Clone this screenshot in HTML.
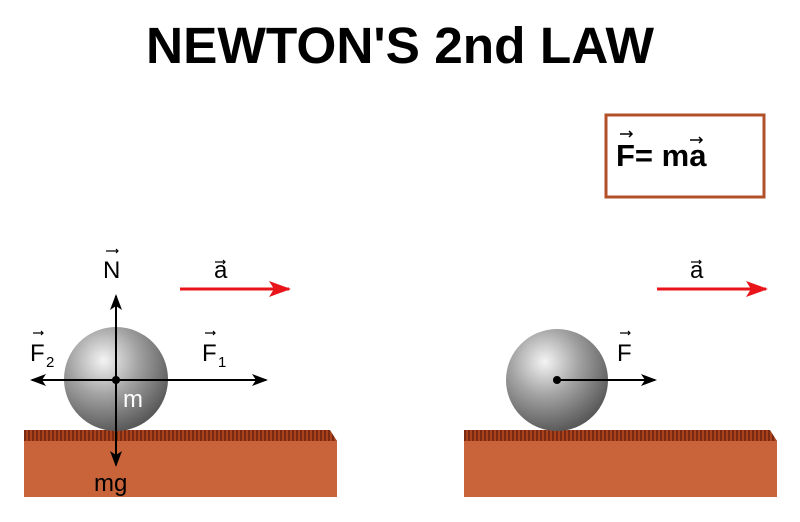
<!DOCTYPE html>
<html><head><style>body{margin:0;background:#fff}svg{display:block}</style></head><body>
<svg width="800" height="522" viewBox="0 0 800 522" xmlns="http://www.w3.org/2000/svg" font-family="Liberation Sans, sans-serif">
<defs>
<radialGradient id="g" cx="0.38" cy="0.32" r="0.75">
<stop offset="0" stop-color="#f4f4f4"/><stop offset="0.45" stop-color="#a2a2a2"/><stop offset="1" stop-color="#4e4e4e"/>
</radialGradient>
<pattern id="h" width="4" height="11" patternUnits="userSpaceOnUse"><rect width="4" height="11" fill="#a8431e"/><rect width="2" height="11" fill="#7a2a10"/></pattern>
<marker id="ab" markerWidth="16" markerHeight="12" refX="14" refY="6" orient="auto" markerUnits="userSpaceOnUse"><path d="M0,0 L16,6 L0,12 L4,6z" fill="#000"/></marker>
<marker id="ar" markerWidth="22" markerHeight="16" refX="20" refY="8" orient="auto" markerUnits="userSpaceOnUse"><path d="M0,0 L22,8 L0,16 L5,8z" fill="#e8141a"/></marker>
</defs>
<text x="400" y="63" text-anchor="middle" font-size="51" font-weight="bold" textLength="508" lengthAdjust="spacingAndGlyphs">NEWTON'S 2nd LAW</text>
<rect x="606" y="115" width="158" height="82" fill="#fff" stroke="#b2502a" stroke-width="3"/>
<text x="616" y="166" font-size="31" font-weight="bold">F= ma</text>
<path d="M620 134h12M629 131l3 3-3 3M690 140h12M699 137l3 3-3 3" stroke="#000" stroke-width="1.5" fill="none"/>
<rect x="24" y="441" width="313" height="56" fill="#c9643a"/>
<path d="M24 430h306l7 11H24z" fill="url(#h)"/>
<rect x="464" y="441" width="313" height="56" fill="#c9643a"/>
<path d="M464 430h306l7 11H464z" fill="url(#h)"/>
<circle cx="116" cy="379" r="52" fill="url(#g)"/>
<circle cx="557" cy="380" r="51" fill="url(#g)"/>
<g stroke="#000" stroke-width="2">
<line x1="116" y1="380" x2="116" y2="296" marker-end="url(#ab)"/>
<line x1="116" y1="380" x2="116" y2="465" marker-end="url(#ab)"/>
<line x1="116" y1="380" x2="266" y2="380" marker-end="url(#ab)"/>
<line x1="116" y1="380" x2="32" y2="380" marker-end="url(#ab)"/>
<line x1="557" y1="380" x2="655" y2="380" marker-end="url(#ab)"/>
</g>
<circle cx="116" cy="380" r="4"/><circle cx="557" cy="380" r="4"/>
<g stroke="#e8141a" stroke-width="3">
<line x1="180" y1="289" x2="289" y2="289" marker-end="url(#ar)"/>
<line x1="657" y1="289" x2="766" y2="289" marker-end="url(#ar)"/>
</g>
<g font-size="24">
<text x="103" y="278">N</text>
<text x="214" y="278">a</text>
<text x="690" y="278">a</text>
<text x="30" y="361">F</text><text x="46" y="367" font-size="15">2</text>
<text x="202" y="361">F</text><text x="218" y="367" font-size="15">1</text>
<text x="617" y="361">F</text>
<text x="123" y="407" fill="#fff">m</text>
<text x="94" y="491">mg</text>
</g>
<g stroke="#000" stroke-width="1.2" fill="none">
<path d="M106 251h12M116 249l2 2-2 2"/>
<path d="M215 262h10M223 260l2 2-2 2"/>
<path d="M691 262h10M699 260l2 2-2 2"/>
<path d="M33 333h10M41 331l2 2-2 2"/>
<path d="M205 333h10M213 331l2 2-2 2"/>
<path d="M620 333h10M628 331l2 2-2 2"/>
</g>
</svg>
</body></html>
